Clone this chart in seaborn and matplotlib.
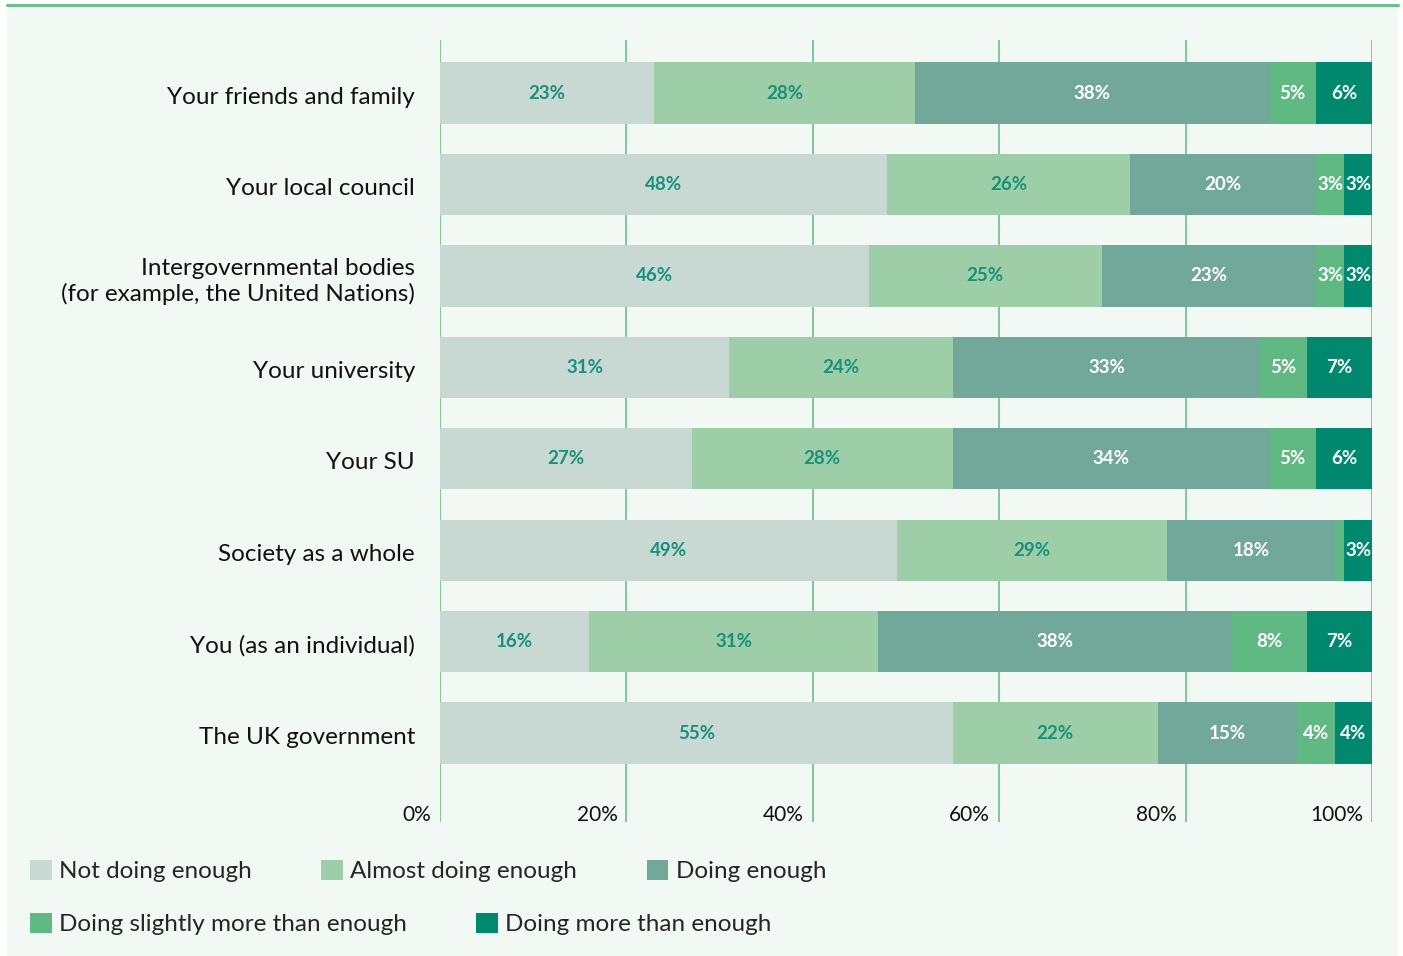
import matplotlib
matplotlib.use("Agg")
import matplotlib.pyplot as plt
from matplotlib.patches import Patch, Rectangle
from matplotlib.lines import Line2D
import matplotlib.transforms as mtransforms
import numpy as np
import pandas as pd
import seaborn as sns

# ---- data -------------------------------------------------------------
categories = [
    "Your friends and family",
    "Your local council",
    "Intergovernmental bodies\n(for example, the United Nations)",
    "Your university",
    "Your SU",
    "Society as a whole",
    "You (as an individual)",
    "The UK government",
]
series_names = [
    "Not doing enough",
    "Almost doing enough",
    "Doing enough",
    "Doing slightly more than enough",
    "Doing more than enough",
]
not_enough = [23, 48, 46, 31, 27, 49, 16, 55]
almost_enough = [28, 26, 25, 24, 28, 29, 31, 22]
doing_enough = [38, 20, 23, 33, 34, 18, 38, 15]
slightly_more = [5, 3, 3, 5, 5, 1, 8, 4]
more_than = [6, 3, 3, 7, 6, 3, 7, 4]
tick_values = [0, 20, 40, 60, 80, 100]
tick_labels = ["0%", "20%", "40%", "60%", "80%", "100%"]

colors = ["#c8d9d3", "#9dcea8", "#72a899", "#60b882", "#00896f"]
label_colors = ["#17917a", "#17917a", "white", "white", "white"]

# ---- figure -----------------------------------------------------------
sns.set_theme(style="white")
plt.rcParams["font.family"] = ["Lato", "DejaVu Sans"]

W, H = 1403, 956
fig = plt.figure(figsize=(W / 100, H / 100), dpi=100, facecolor="white")

# mint panel with green rule along the top
fig.patches.append(Rectangle((7 / W, 0), (1398 - 7) / W, (956 - 5) / H,
                             transform=fig.transFigure, facecolor="#f2f8f4",
                             edgecolor="none", zorder=-10))
fig.lines.append(Line2D([7 / W, 1398 / W], [1 - 5 / H, 1 - 5 / H],
                        transform=fig.transFigure, color="#6abf8a", lw=2.2,
                        zorder=-5))

ax = fig.add_axes([440 / W, 1 - 822 / H, (1372 - 440) / W, (822 - 40) / H])
ax.set_facecolor("none")
ax.set_zorder(1)

series = [not_enough, almost_enough, doing_enough, slightly_more, more_than]
df = pd.DataFrame({name: vals for name, vals in zip(series_names, series)})
df["category"] = categories
cum = df[series_names].cumsum(axis=1)

# stacked bars: draw cumulative totals from the outermost segment inward
for i in range(len(series_names) - 1, -1, -1):
    sns.barplot(x=cum[series_names[i]], y=df["category"], orient="h",
                color=colors[i], saturation=1, width=0.67, ax=ax,
                edgecolor="none", linewidth=0, zorder=2)

# segment value labels
for j in range(len(categories)):
    left = 0
    for i, name in enumerate(series_names):
        v = df[name].iloc[j]
        if v >= 2:
            ax.text(left + v / 2, j, f"{v}%", ha="center", va="center",
                    color=label_colors[i], fontsize=13.5, fontweight="bold",
                    zorder=5)
        left += v

ax.set_xlim(0, 100)
ax.set_ylim(7.973, -0.58)
ax.set_xticks(tick_values)
ax.set_xticklabels([])
ax.tick_params(axis="x", length=0)
ax.grid(axis="x", color="#7cc995", lw=1.4)
ax.grid(axis="y", visible=False)
ax.set_axisbelow(True)
for s in ax.spines.values():
    s.set_visible(False)
ax.set_xlabel("")
ax.set_ylabel("")
ax.tick_params(axis="y", length=0, pad=18, labelsize=17.5, labelcolor="#111111")
for lab in ax.get_yticklabels():
    lab.set_transform(lab.get_transform() +
                      mtransforms.ScaledTranslation(0, -2 / 100, fig.dpi_scale_trans))

# axis percentages sit just left of each grid line
offset = mtransforms.offset_copy(ax.transData, fig=fig, x=-9, y=-2, units="dots")
for v, lab in zip(tick_values, tick_labels):
    ax.text(v, 7.875, lab, transform=offset, ha="right", va="center",
            fontsize=15, color="#111111")

# legend in two rows
handles = [Patch(facecolor=c, edgecolor="none") for c in colors]
leg_kw = dict(frameon=False, fontsize=17.5, handlelength=0.9, handleheight=0.9,
              handletextpad=0.3, columnspacing=2.85, borderpad=0,
              borderaxespad=0, loc="center left")
leg1 = fig.legend(handles[:3], series_names[:3], ncol=3,
                  bbox_to_anchor=(30 / W, 1 - 871 / H), **leg_kw)
leg2 = fig.legend(handles[3:], series_names[3:], ncol=2,
                  bbox_to_anchor=(30 / W, 1 - 924 / H), **leg_kw)

fig.savefig("out.png", dpi=100, facecolor="white")
